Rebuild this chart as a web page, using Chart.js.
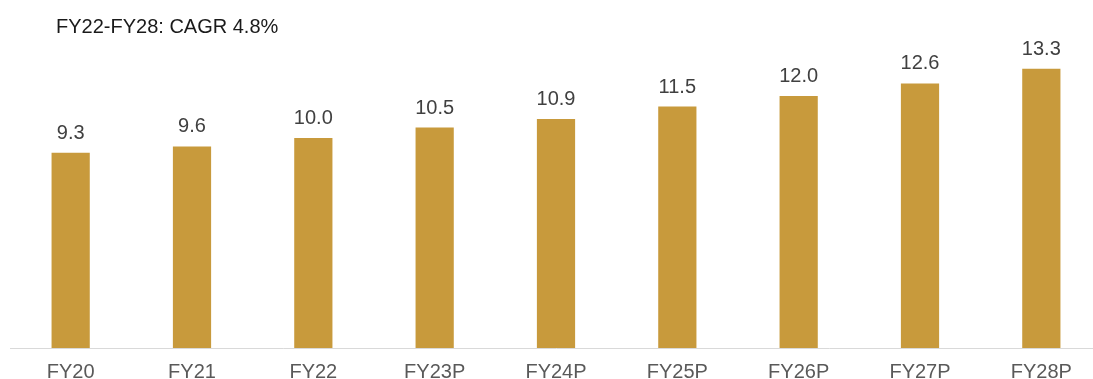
<!DOCTYPE html>
<html>
<head>
<meta charset="utf-8">
<script src="https://cdn.jsdelivr.net/npm/chart.js@4"></script>
<style>
    html, body { margin: 0; padding: 0; background: #fff; overflow: hidden; }
    #wrap { position: relative; width: 1112px; height: 379px; }
</style>
</head>
<body>
<div id="wrap"><canvas id="revChart"></canvas></div>
<script>
// Data
const years = ['FY20', 'FY21', 'FY22', 'FY23P', 'FY24P', 'FY25P', 'FY26P', 'FY27P', 'FY28P'];
const values = [9.3, 9.6, 10.0, 10.5, 10.9, 11.5, 12.0, 12.6, 13.3];
const headline = 'FY22-FY28: CAGR 4.8%';

const FONT = 'Arial, "Liberation Sans", sans-serif';

// value above each bar + headline text top-left
const labelPlugin = {
    id: 'barLabels',
    afterDatasetsDraw(chart) {
        const ctx = chart.ctx;
        const meta = chart.getDatasetMeta(0);
        ctx.save();
        ctx.font = '20px ' + FONT;
        ctx.fillStyle = '#404040';
        ctx.textAlign = 'center';
        ctx.textBaseline = 'alphabetic';
        meta.data.forEach((bar, i) => {
            ctx.fillText(values[i].toFixed(1), bar.x, bar.y - 14);
        });
        ctx.fillStyle = '#1a1a1a';
        ctx.textAlign = 'left';
        ctx.fillText(headline, 56, 33);
        ctx.restore();
    }
};

const ctx = document.getElementById('revChart').getContext('2d');
new Chart(ctx, {
    type: 'bar',
    data: {
        labels: years,
        datasets: [{
            data: values,
            backgroundColor: '#C89A3C',
            borderWidth: 0,
            barPercentage: 0.315,
            categoryPercentage: 1
        }]
    },
    options: {
        responsive: true,
        maintainAspectRatio: false,
        animation: false,
        layout: { padding: { left: 10, right: 10, top: 54, bottom: 0 } },
        plugins: {
            legend: { display: false },
            tooltip: { enabled: false }
        },
        scales: {
            x: {
                grid: { display: false, drawTicks: false },
                border: { display: true, color: '#d9d9d9', width: 1 },
                ticks: { color: '#595959', font: { size: 20, family: FONT }, padding: 12 },
                afterFit(scale) { scale.height = 31; }
            },
            y: {
                display: false,
                min: 0,
                max: 14
            }
        }
    },
    plugins: [labelPlugin]
});
</script>
</body>
</html>
